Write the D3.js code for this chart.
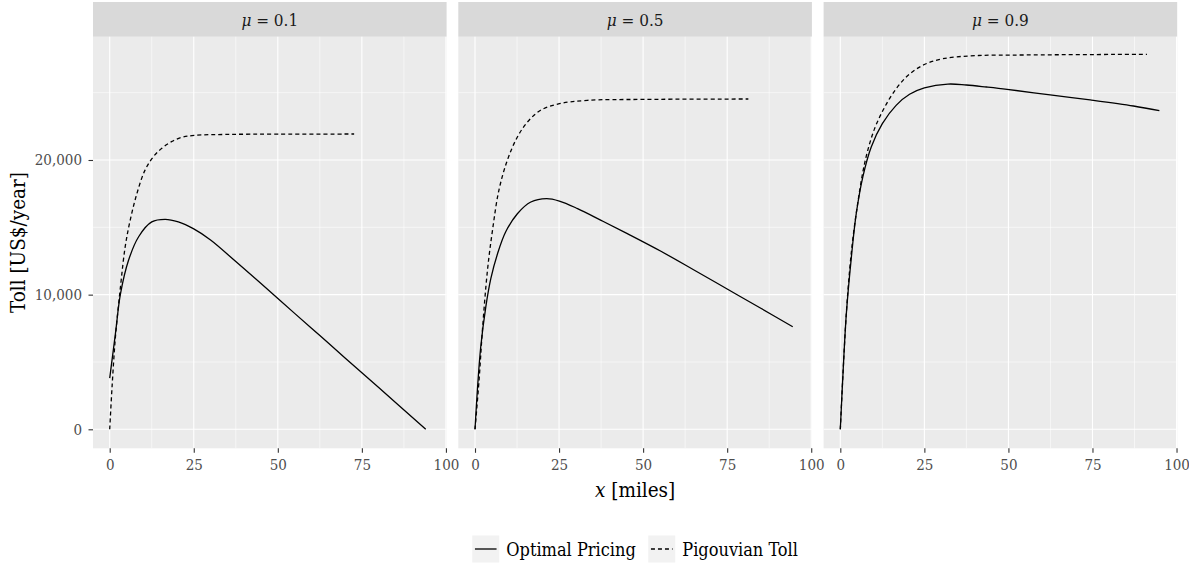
<!DOCTYPE html>
<html>
<head>
<meta charset="UTF-8"/>
<title>Toll by distance</title>
<script src="https://d3js.org/d3.v7.min.js"></script>
<style>
body { margin: 0; background: #fff; }
</style>
</head>
<body>
<div id="chart"></div>
<script>

// facet values of mu
var muLabels = ["0.1", "0.5", "0.9"];

// [x miles, toll US$/year] for each facet
var optimal01 = [[0,3800],[1.7,7100],[3.2,10050],[5.6,12550],[8.6,14300],[12.5,15400],[16.5,15590],[20.4,15400],[25,14880],[30,14060],[37.5,12460],[45,10830],[55,8610],[62.5,6960],[70,5300],[80,3100],[94,0]];
var pigou01 = [[0,0],[0.7,3150],[1.7,6860],[3.2,10580],[4.6,13550],[6.1,15540],[8.1,17520],[10.5,19250],[13,20250],[15.5,20870],[18.4,21360],[21.4,21680],[25.3,21830],[35,21900],[50,21920],[72.7,21930]];

var optimal05 = [[0,0],[0.7,2900],[1.7,6110],[3.2,9080],[4.7,11190],[6.7,13040],[9.1,14650],[12.6,16010],[16.6,16880],[21.3,17130],[25.1,16950],[30.5,16390],[37.5,15520],[45.3,14530],[55.3,13220],[65,11850],[75,10420],[85,8990],[94.5,7620]];
var pigou05 = [[0,0],[1.2,3640],[2.2,7350],[3.7,11800],[5.2,14780],[7.1,17750],[9.6,19970],[12.6,21710],[15.6,22820],[19.5,23690],[25.1,24180],[33.4,24430],[50.3,24500],[81.3,24530]];

var optimal09 = [[0,0],[0.8,4150],[1.8,8600],[3.3,12810],[4.75,16030],[6.7,18750],[9.2,20970],[12.5,22700],[16.6,24060],[20.6,24880],[25,25350],[32,25640],[37.5,25570],[43.5,25420],[49.6,25250],[62.4,24830],[74.3,24460],[87.2,24010],[94.9,23660]];
var pigou09 = [[0,0],[0.8,4150],[1.8,8650],[2.8,11900],[3.8,14300],[5.25,16900],[6.7,19100],[8.2,20750],[10.2,22330],[12.7,23690],[15.6,24930],[19.6,26160],[24.5,27030],[30.5,27520],[40.4,27750],[55.2,27800],[91.2,27850]];

var optimalSeries = [optimal01, optimal05, optimal09];
var pigouSeries = [pigou01, pigou05, pigou09];

var xTicks = [0, 25, 50, 75, 100];
var xMinor = [12.5, 37.5, 62.5, 87.5];
var yTicks = [0, 10000, 20000];
var yMinor = [5000, 15000, 25000];
var legendLabels = ["Optimal Pricing", "Pigouvian Toll"];

// LAYOUT
var width = 1189, height = 563;
var panelLeft = 93, panelW = 353.6, panelGap = 11.7;
var stripTop = 2, panelTop = 36.7, panelBottom = 448.3;
var serif = "'DejaVu Serif Condensed', 'DejaVu Serif', serif";
var tickSize = "15px", stripSize = "17px", legendSize = "18px", titleSize = "20.5px";

var svg = d3.select("#chart").append("svg")
	.attr("width", width)
	.attr("height", height)
	.attr("font-family", serif);

var x = d3.scaleLinear().domain([-4.97, 100.2]).range([0, panelW]);
var y = d3.scaleLinear().domain([-1411, 29157]).range([panelBottom, panelTop]);

var line = d3.line()
	.x(function(d) { return x(d[0]); })
	.y(function(d) { return y(d[1]); })
	.curve(d3.curveCatmullRom.alpha(0.5));

for (var i = 0; i < muLabels.length; i++) {
	var g = svg.append("g")
		.attr("transform", "translate(" + (panelLeft + i * (panelW + panelGap)) + ",0)");

	// panel background and strip
	g.append("rect")
		.attr("x", 0).attr("y", panelTop)
		.attr("width", panelW).attr("height", panelBottom - panelTop)
		.attr("fill", "#EBEBEB");
	g.append("rect")
		.attr("x", 0).attr("y", stripTop)
		.attr("width", panelW).attr("height", panelTop - stripTop)
		.attr("fill", "#D9D9D9");

	var strip = g.append("text")
		.attr("x", panelW / 2)
		.attr("y", (stripTop + panelTop) / 2 + 1)
		.attr("text-anchor", "middle")
		.attr("dominant-baseline", "central")
		.attr("fill", "#1A1A1A")
		.attr("font-size", stripSize);
	strip.append("tspan").attr("font-style", "italic").text("μ");
	strip.append("tspan").text(" = " + muLabels[i]);

	// grid
	g.selectAll(".ymin").data(yMinor).enter().append("line")
		.attr("x1", 0).attr("x2", panelW)
		.attr("y1", function(d) { return y(d); }).attr("y2", function(d) { return y(d); })
		.attr("stroke", "#fff").attr("stroke-width", 0.55);
	g.selectAll(".xmin").data(xMinor).enter().append("line")
		.attr("y1", panelTop).attr("y2", panelBottom)
		.attr("x1", function(d) { return x(d); }).attr("x2", function(d) { return x(d); })
		.attr("stroke", "#fff").attr("stroke-width", 0.55);
	g.selectAll(".ymaj").data(yTicks).enter().append("line")
		.attr("x1", 0).attr("x2", panelW)
		.attr("y1", function(d) { return y(d); }).attr("y2", function(d) { return y(d); })
		.attr("stroke", "#fff").attr("stroke-width", 1.1);
	g.selectAll(".xmaj").data(xTicks).enter().append("line")
		.attr("y1", panelTop).attr("y2", panelBottom)
		.attr("x1", function(d) { return x(d); }).attr("x2", function(d) { return x(d); })
		.attr("stroke", "#fff").attr("stroke-width", 1.1);

	// curves
	g.append("path").datum(optimalSeries[i])
		.attr("d", line)
		.attr("fill", "none").attr("stroke", "#000").attr("stroke-width", 1.3);
	g.append("path").datum(pigouSeries[i])
		.attr("d", line)
		.attr("fill", "none").attr("stroke", "#000").attr("stroke-width", 1.3)
		.attr("stroke-dasharray", "4,3");

	// x axis
	var xa = g.append("g")
		.attr("transform", "translate(0," + panelBottom + ")")
		.call(d3.axisBottom(x).tickValues(xTicks).tickSize(4.5).tickPadding(7));
	xa.attr("font-family", serif).attr("font-size", tickSize);
	xa.select(".domain").remove();
	xa.selectAll("line").attr("stroke", "#333").attr("stroke-width", 1.1);
	xa.selectAll("text").attr("fill", "#4D4D4D");

	if (i == 0) {
		var ya = g.append("g")
			.call(d3.axisLeft(y).tickValues(yTicks).tickFormat(d3.format(",")).tickSize(4.5).tickPadding(6.5));
		ya.attr("font-family", serif).attr("font-size", tickSize);
		ya.select(".domain").remove();
		ya.selectAll("line").attr("stroke", "#333").attr("stroke-width", 1.1);
		ya.selectAll("text").attr("fill", "#4D4D4D");
	}
}

// axis titles
svg.append("text")
	.attr("transform", "translate(17.5," + ((panelTop + panelBottom) / 2) + ") rotate(-90)")
	.attr("text-anchor", "middle")
	.attr("dominant-baseline", "central")
	.attr("font-size", titleSize)
	.text("Toll [US$/year]");

var panelsMid = panelLeft + (3 * panelW + 2 * panelGap) / 2;
var xt = svg.append("text")
	.attr("x", panelsMid)
	.attr("y", 490)
	.attr("text-anchor", "middle")
	.attr("dominant-baseline", "central")
	.attr("font-size", titleSize);
xt.append("tspan").attr("font-style", "italic").text("x");
xt.append("tspan").text(" [miles]");

// legend
var keySize = 27, keyGap = 7, itemGap = 12.5, legendY = 549;
var legend = svg.append("g");
var cursor = 0;
var dashes = [null, "4,3"];
for (var k = 0; k < legendLabels.length; k++) {
	var item = legend.append("g").attr("transform", "translate(" + cursor + ",0)");
	item.append("rect")
		.attr("x", 0).attr("y", legendY - keySize / 2)
		.attr("width", keySize).attr("height", keySize)
		.attr("fill", "#F2F2F2");
	item.append("line")
		.attr("x1", 2.7).attr("x2", keySize - 2.7)
		.attr("y1", legendY).attr("y2", legendY)
		.attr("stroke", "#000").attr("stroke-width", 1.3)
		.attr("stroke-dasharray", dashes[k]);
	var t = item.append("text")
		.attr("x", keySize + keyGap)
		.attr("y", legendY)
		.attr("dominant-baseline", "central")
		.attr("font-size", legendSize)
		.text(legendLabels[k]);
	cursor += keySize + keyGap + t.node().getComputedTextLength() + itemGap;
}
var legendW = cursor - itemGap;
legend.attr("transform", "translate(" + (panelsMid - legendW / 2) + ",0)");

</script>
</body>
</html>
